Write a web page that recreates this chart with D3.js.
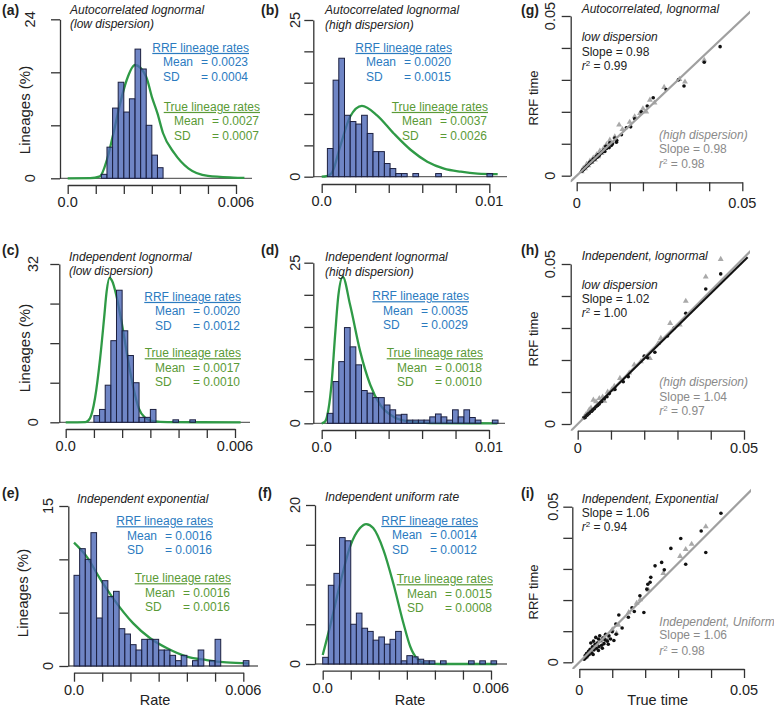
<!DOCTYPE html>
<html><head><meta charset="utf-8">
<script src="https://cdn.jsdelivr.net/npm/d3@7"></script>
<style>body{margin:0;background:#fff}</style>
</head><body><script>
// ---------------- DATA ----------------
// Histogram bins (% of lineages)
const aBinStart = 0.0012, aBinWidth = 0.0002;
const aCounts = [0.6, 4.7, 10.6, 14.5, 10.0, 12.0, 19.5, 16.5, 8.0, 3.5, 1.6];
const aCurveX = [0, 0.0008, 0.00115, 0.0014, 0.00163, 0.00187, 0.0021, 0.0024, 0.0028, 0.0030, 0.0032, 0.0034, 0.0038, 0.0043, 0.0050, 0.0059, 0.0063];
const aCurveY = [0, 0.02, 0.3, 2.8, 6.8, 11.3, 14.8, 17.1, 15.3, 12.3, 9.8, 6.8, 3.8, 1.5, 0.35, 0.1, 0.05];

const bBinStart = 0.00034, bBinWidth = 0.00034;
const bCounts = [4.5, 15.4, 18.9, 9.8, 8.8, 8.4, 9.8, 6.9, 4.0, 4.0, 2.1, 1.3, 0.5, 0.5, 0, 0.5, 0, 0, 0, 0.5, 0, 0, 0, 0, 0, 0, 0, 0, 0.5, 0];
const bCurveX = [0, 0.0003, 0.0006, 0.0011, 0.0017, 0.0024, 0.0033, 0.0043, 0.0053, 0.0063, 0.0073, 0.0083, 0.0093, 0.0105];
const bCurveY = [0, 0.1, 0.6, 4.8, 9.6, 11.3, 9.8, 6.9, 4.3, 2.4, 1.3, 0.8, 0.5, 0.4];

const cBinStart = 0.0010, cBinWidth = 0.0002;
const cCounts = [1.35, 2.6, 7.5, 16.5, 26.7, 18.5, 13.5, 8.0, 1.0, 1.0, 2.6, 0, 0, 0, 0.5, 0, 0, 0.5];
const cCurveX = [0, 0.0007, 0.00086, 0.00104, 0.00122, 0.00136, 0.00145, 0.00155, 0.00165, 0.00178, 0.00198, 0.00218, 0.00238, 0.00259, 0.0028, 0.0031, 0.0036, 0.0062];
const cCurveY = [0, 0.05, 0.8, 4.9, 12.9, 21, 26.4, 29.2, 28.5, 26.0, 20.3, 13.6, 7.5, 2.8, 1.0, 0.25, 0.03, 0];

const dBinStart = 0.00034, dBinWidth = 0.00034;
const dCounts = [1.55, 6.5, 9.6, 14.9, 11.9, 9.1, 5.1, 4.7, 4.0, 4.0, 2.85, 2.1, 1.3, 1.4, 0.5, 0.5, 0.5, 0.5, 1.0, 1.45, 1.0, 0.5, 2.1, 1.0, 2.1, 0.9, 0.5, 0, 0, 0.5];
const dCurveX = [0, 0.0002, 0.0004, 0.0006, 0.0008, 0.0010, 0.00126, 0.0017, 0.0023, 0.0029, 0.0035, 0.0043, 0.0053, 0.0065, 0.0105];
const dCurveY = [0, 0.26, 2.1, 6.5, 13.7, 20, 22.8, 18.4, 11.2, 6.0, 2.85, 1.0, 0.26, 0.05, 0];

const eBinStart = 0, eBinWidth = 0.0002;
const eCounts = [8.5, 11.0, 10.0, 12.5, 4.5, 8.0, 6.5, 7.0, 3.5, 3.0, 2.0, 1.5, 2.5, 2.5, 2.5, 1.5, 1.5, 1.0, 0.5, 1.0, 0, 0.5, 1.5, 0, 0.5, 2.5, 0, 0, 0, 0, 0.5];
const eCurveX = [0, 0.00045, 0.00092, 0.0014, 0.0021, 0.0027, 0.0033, 0.004, 0.0047, 0.0054, 0.0062];
const eCurveY = [11.56, 10.25, 8.2, 6.3, 4.0, 2.6, 1.66, 0.88, 0.56, 0.34, 0.25];

const fBinStart = 0, fBinWidth = 0.0002;
const fCounts = [0.84, 9.9, 11.4, 15.9, 15.5, 5.0, 6.4, 4.5, 4.1, 3.0, 3.4, 2.5, 3.1, 4.1, 0.4, 1.05, 0.9, 0.6, 0.4, 0.4, 0, 0.4, 0, 0, 0, 0, 0.4, 0, 0.4, 0, 0.4];
const fCurveX = [0, 0.00026, 0.00062, 0.00098, 0.00133, 0.00155, 0.0018, 0.00217, 0.00252, 0.00288, 0.00312, 0.00336, 0.0037, 0.0042, 0.0062];
const fCurveY = [1.13, 4.7, 10.1, 14.8, 17.1, 17.6, 17.1, 14.3, 10.1, 5.1, 2.2, 0.7, 0.08, 0, 0];

const histTitles = [["Autocorrelated lognormal", "(low dispersion)"], ["Autocorrelated lognormal", "(high dispersion)"],
  ["Independent lognormal", "(low dispersion)"], ["Independent lognormal", "(high dispersion)"],
  ["Independent exponential"], ["Independent uniform rate"]];
const rrfMean = ["0.0023", "0.0020", "0.0020", "0.0035", "0.0016", "0.0014"];
const rrfSD   = ["0.0004", "0.0015", "0.0012", "0.0029", "0.0016", "0.0012"];
const trueMean = ["0.0027", "0.0037", "0.0017", "0.0018", "0.0016", "0.0015"];
const trueSD   = ["0.0007", "0.0026", "0.0010", "0.0010", "0.0016", "0.0008"];

// Scatter data: [true time, RRF time]
const gDots = [[0.0433,0.0404],[0.0385,0.0355],[0.0324,0.0281],[0.0307,0.0300],[0.0270,0.0270],[0.0231,0.0244],[0.0213,0.0218],[0.0195,0.0200],[0.0175,0.0178],[0.0163,0.0153],[0.0150,0.0150],[0.0135,0.0128],[0.0121,0.0110],[0.0115,0.0118],[0.0105,0.0095],[0.0100,0.0103],[0.0095,0.0090],[0.0090,0.0085],[0.0088,0.0092],[0.0082,0.0080],[0.0078,0.0075],[0.0075,0.0072],[0.0070,0.0068],[0.0068,0.0063],[0.0065,0.0066],[0.0062,0.0058],[0.0060,0.0061],[0.0057,0.0055],[0.0055,0.0052],[0.0052,0.0050],[0.0050,0.0052],[0.0048,0.0046],[0.0045,0.0043],[0.0043,0.0045],[0.0040,0.0038],[0.0038,0.0040],[0.0035,0.0034],[0.0033,0.0031],[0.0030,0.0030],[0.0028,0.0027],[0.0025,0.0025],[0.0022,0.0021],[0.0020,0.0019],[0.0018,0.0018],[0.0015,0.0014],[0.0108,0.0100],[0.0098,0.0088],[0.0085,0.0076],[0.0120,0.0105]];
const gTris = [[0.0385,0.0362],[0.0327,0.0294],[0.0310,0.0302],[0.0264,0.0277],[0.0221,0.0237],[0.0210,0.0200],[0.0191,0.0195],[0.0128,0.0159],[0.0115,0.0122],[0.0100,0.0112],[0.0090,0.0098],[0.0082,0.0087],[0.0075,0.0070],[0.0070,0.0078],[0.0065,0.0060],[0.0060,0.0066],[0.0055,0.0050],[0.0050,0.0056],[0.0045,0.0042],[0.0040,0.0046],[0.0035,0.0032],[0.0030,0.0036],[0.0025,0.0022],[0.0020,0.0024],[0.0015,0.0013],[0.0175,0.0185],[0.0160,0.0168],[0.0138,0.0145],[0.0235,0.0228],[0.0200,0.0210]];
const hDots = [[0.0430,0.0469],[0.0385,0.0422],[0.0325,0.0346],[0.0232,0.0224],[0.0210,0.0207],[0.0200,0.0212],[0.0152,0.0148],[0.0137,0.0132],[0.0112,0.0108],[0.0095,0.0095],[0.0088,0.0085],[0.0080,0.0079],[0.0072,0.0070],[0.0065,0.0063],[0.0060,0.0058],[0.0055,0.0054],[0.0050,0.0048],[0.0045,0.0044],[0.0040,0.0039],[0.0035,0.0034],[0.0030,0.0030],[0.0025,0.0026],[0.0022,0.0020],[0.0018,0.0019],[0.0028,0.0027],[0.0033,0.0032],[0.0042,0.0040],[0.0270,0.0275],[0.0290,0.0300]];
const hTris = [[0.0430,0.0515],[0.0385,0.0460],[0.0325,0.0384],[0.0278,0.0315],[0.0307,0.0310],[0.0242,0.0252],[0.0217,0.0205],[0.0190,0.0195],[0.0127,0.0143],[0.0102,0.0107],[0.0090,0.0100],[0.0075,0.0085],[0.0065,0.0080],[0.0055,0.0070],[0.0047,0.0075],[0.0040,0.0050],[0.0035,0.0045],[0.0030,0.0035],[0.0025,0.0030],[0.0020,0.0022],[0.0060,0.0062],[0.0080,0.0072],[0.0110,0.0118],[0.0155,0.0160],[0.0170,0.0185],[0.0250,0.0268]];
const iDots = [[0.0430,0.0479],[0.0370,0.0422],[0.0308,0.0398],[0.0278,0.0366],[0.0384,0.0353],[0.0323,0.0315],[0.0250,0.0321],[0.0258,0.0297],[0.0230,0.0310],[0.0217,0.0273],[0.0215,0.0257],[0.0208,0.0251],[0.0184,0.0214],[0.0196,0.0160],[0.0167,0.0163],[0.0149,0.0145],[0.0120,0.0152],[0.0111,0.0123],[0.0100,0.0098],[0.0095,0.0075],[0.0090,0.0085],[0.0085,0.0068],[0.0080,0.0090],[0.0075,0.0060],[0.0072,0.0078],[0.0068,0.0055],[0.0065,0.0070],[0.0060,0.0050],[0.0058,0.0075],[0.0055,0.0062],[0.0052,0.0045],[0.0050,0.0080],[0.0048,0.0058],[0.0045,0.0040],[0.0043,0.0068],[0.0040,0.0050],[0.0038,0.0030],[0.0035,0.0062],[0.0033,0.0042],[0.0030,0.0025],[0.0028,0.0035],[0.0025,0.0020],[0.0022,0.0028],[0.0020,0.0015],[0.0018,0.0022],[0.0015,0.0010],[0.0062,0.0085],[0.0078,0.0072],[0.0088,0.0058],[0.0105,0.0070],[0.0112,0.0090],[0.0058,0.0038],[0.0042,0.0025],[0.0070,0.0045],[0.0130,0.0110],[0.0160,0.0175],[0.0205,0.0235]];
const iTris = [[0.0384,0.0436],[0.0323,0.0363],[0.0341,0.0380],[0.0306,0.0341],[0.0255,0.0286],[0.0210,0.0232],[0.0185,0.0202],[0.0174,0.0190],[0.0119,0.0120],[0.0113,0.0093],[0.0088,0.0077],[0.0075,0.0080],[0.0065,0.0068],[0.0055,0.0058],[0.0045,0.0048],[0.0035,0.0038],[0.0025,0.0028],[0.0020,0.0018],[0.0150,0.0160],[0.0100,0.0105]];

const scTitles = ["Autocorrelated, lognormal", "Independent, lognormal", "Independent, Exponential"];
const scLowLabel = ["low dispersion", "low dispersion", null];
const blackSlope = ["0.98", "1.02", "1.06"], blackR2 = ["0.99", "1.00", "0.94"];
const grayLabel = ["(high dispersion)", "(high dispersion)", "Independent, Uniform"];
const graySlope = ["0.98", "1.04", "1.06"], grayR2 = ["0.98", "0.97", "0.98"];
const blackFitSlope = [null, 1.02, null];
const grayFitSlope = [0.98, 1.04, 1.06];

// ---------------- DRAWING ----------------
const FONT = '"Liberation Sans", Arial, Helvetica, sans-serif';
const svg = d3.select("body").append("svg").attr("width", 774).attr("height", 709)
  .style("font-family", FONT);

const AX = "#333", BLUE = "#2b7bbf", GREEN_T = "#5a9a36", GREEN_L = "#2f9a46";
const TICK = 9, TICKFS = 14.5;

function txt(g, x, y, s, o = {}) {
  const t = g.append("text").attr("x", x).attr("y", y).attr("dy", "0.35em").text(s)
    .attr("font-size", o.fs || 12).attr("fill", o.fill || "#222");
  if (o.anchor) t.attr("text-anchor", o.anchor);
  if (o.italic) t.attr("font-style", "italic");
  if (o.bold) t.attr("font-weight", "bold");
  if (o.rot) t.attr("transform", `rotate(-90,${x},${y})`);
  if (o.under) t.style("text-decoration", "underline");
  return t;
}

function statBlock(g, R, y0, color, head, mean, sd) {
  txt(g, R, y0, head, { anchor: "end", fill: color, under: true });
  txt(g, R - 86, y0 + 14.3, "Mean", { fill: color });
  txt(g, R - 1, y0 + 14.3, "= " + mean, { fill: color, anchor: "end" });
  txt(g, R - 86, y0 + 28.6, "SD", { fill: color });
  txt(g, R - 1, y0 + 28.6, "= " + sd, { fill: color, anchor: "end" });
}

function histPanel(L, k, binStart, binWidth, counts, curveX, curveY) {
  const g = svg.append("g");
  const x = d3.scaleLinear().domain([0, L.xmax]).range([L.x0, L.x1]);
  const y = d3.scaleLinear().domain([0, L.ymax]).range([L.y0, L.y1]);
  // baseline
  g.append("line").attr("x1", L.yAxisX).attr("x2", L.baseEnd).attr("y1", y(0)).attr("y2", y(0))
    .attr("stroke", "#666").attr("stroke-width", 1.3);
  // density curve
  const pts = curveX.map((v, i) => [v, curveY[i]]);
  g.append("path").datum(pts)
    .attr("d", d3.line().x(d => x(d[0])).y(d => y(d[1])).curve(d3.curveMonotoneX))
    .attr("fill", "none").attr("stroke", GREEN_L).attr("stroke-width", 2.3);
  // bars
  const bins = counts.map((c, i) => ({ x0: binStart + i * binWidth, c })).filter(d => d.c > 0);
  g.selectAll("rect.bar").data(bins).join("rect").attr("class", "bar")
    .attr("x", d => x(d.x0)).attr("width", d => x(d.x0 + binWidth) - x(d.x0))
    .attr("y", d => y(d.c)).attr("height", d => y(0) - y(d.c))
    .attr("fill", "rgba(75,102,182,0.8)").attr("stroke", "#1c2040").attr("stroke-width", 1);
  // axes
  const yAx = d3.axisLeft(y).tickValues(d3.range(0, L.ymax + 1e-9, L.ystep))
    .tickSize(TICK).tickSizeOuter(0).tickFormat("");
  g.append("g").attr("transform", `translate(${L.yAxisX},0)`).call(yAx)
    .call(s => s.selectAll("path,line").attr("stroke", AX).attr("stroke-width", 1.3));
  const xt = d3.range(0, L.xmax + 1e-9, L.xstep);
  const xAx = d3.axisBottom(x).tickValues(xt).tickSize(TICK).tickSizeOuter(0).tickFormat("");
  g.append("g").attr("transform", `translate(0,${L.xAxisY})`).call(xAx)
    .call(s => s.selectAll("path,line").attr("stroke", AX).attr("stroke-width", 1.3));
  // tick labels
  txt(g, x(0), L.xAxisY + 17, L.xLab[0], { anchor: "middle", fs: TICKFS });
  txt(g, x(L.xmax), L.xAxisY + 17, L.xLab[1], { anchor: "middle", fs: TICKFS });
  txt(g, L.yLabX, y(0), "0", { anchor: "middle", fs: TICKFS, rot: true });
  txt(g, L.yLabX, y(L.ymax), String(L.ymax), { anchor: "middle", fs: TICKFS, rot: true });
  // labels
  txt(g, L.labX, L.labY, L.label, { bold: true, fs: 14 });
  histTitles[k].forEach((t, i) => txt(g, L.titleX, L.titleY[i], t, { italic: true }));
  statBlock(g, L.rrfR, L.rrfY, BLUE, "RRF lineage rates", rrfMean[k], rrfSD[k]);
  statBlock(g, L.truR, L.truY, GREEN_T, "True lineage rates", trueMean[k], trueSD[k]);
  if (L.ylabel) txt(g, L.ylabel.x, L.ylabel.y, "Lineages (%)", { anchor: "middle", fs: 15, rot: true });
  if (L.xlabel) txt(g, L.xlabel.x, L.xlabel.y, "Rate", { anchor: "middle", fs: 14.5 });
}

function r2Text(g, x, y, val, color) {
  const t = g.append("text").attr("x", x).attr("y", y).attr("dy", "0.35em").attr("font-size", 12).attr("fill", color);
  t.append("tspan").attr("font-style", "italic").text("r");
  t.append("tspan").attr("font-size", 8).attr("dy", -4).text("2");
  t.append("tspan").attr("dy", 4).text(" = " + val);
}

function scatterPanel(L, k, dots, tris) {
  const g = svg.append("g");
  const x = d3.scaleLinear().domain([0, 0.05]).range([L.x0, L.x1]);
  const y = d3.scaleLinear().domain([0, 0.05]).range([L.y0, L.y1]);
  const tv = d3.range(0, 0.05 + 1e-9, 0.01);
  g.append("g").attr("transform", `translate(${L.yAxisX},0)`)
    .call(d3.axisLeft(y).tickValues(tv).tickSize(TICK).tickSizeOuter(0).tickFormat(""))
    .call(s => s.selectAll("path,line").attr("stroke", AX).attr("stroke-width", 1.3));
  g.append("g").attr("transform", `translate(0,${L.xAxisY})`)
    .call(d3.axisBottom(x).tickValues(tv).tickSize(TICK).tickSizeOuter(0).tickFormat(""))
    .call(s => s.selectAll("path,line").attr("stroke", AX).attr("stroke-width", 1.3));
  txt(g, x(0), L.xLabY, "0", { anchor: "middle", fs: TICKFS });
  txt(g, x(0.05), L.xLabY, "0.05", { anchor: "middle", fs: TICKFS });
  txt(g, L.yLabX, y(0), "0", { anchor: "middle", fs: TICKFS, rot: true });
  txt(g, L.yLabX, y(0.05), "0.05", { anchor: "middle", fs: TICKFS, rot: true });

  const clipId = "clip" + k;
  g.append("clipPath").attr("id", clipId).append("rect")
    .attr("x", L.yAxisX).attr("y", L.top).attr("width", L.right - L.yAxisX).attr("height", L.xAxisY - L.top);
  const tri = d3.symbol().type(d3.symbolTriangle).size(15);
  g.selectAll("path.tri").data(tris).join("path").attr("class", "tri")
    .attr("d", tri).attr("transform", d => `translate(${x(d[0])},${y(d[1])})`).attr("fill", "#a9a9a9");
  g.selectAll("circle.dot").data(dots).join("circle").attr("class", "dot")
    .attr("cx", d => x(d[0])).attr("cy", d => y(d[1])).attr("r", 1.8).attr("fill", "#111");
  const lg = g.append("g").attr("clip-path", `url(#${clipId})`);
  const gs = grayFitSlope[k];
  lg.append("line").attr("x1", x(-0.004)).attr("y1", y(-0.004 * gs)).attr("x2", x(0.056)).attr("y2", y(0.056 * gs))
    .attr("stroke", "#a0a0a0").attr("stroke-width", 2.2);
  const bs = blackFitSlope[k];
  if (bs) lg.append("line").attr("x1", x(0.0017)).attr("y1", y(0.0017 * bs)).attr("x2", x(0.0511)).attr("y2", y(0.0511 * bs))
    .attr("stroke", "#111").attr("stroke-width", 2);

  txt(g, L.labX, L.labY, L.label, { bold: true, fs: 14 });
  txt(g, L.textX, L.titleY, scTitles[k], { italic: true });
  if (scLowLabel[k]) txt(g, L.textX, L.lowY, scLowLabel[k], { italic: true });
  txt(g, L.textX, L.slopeY, "Slope = " + blackSlope[k], {});
  r2Text(g, L.textX, L.r2Y, blackR2[k], "#222");
  txt(g, L.grayX, L.grayY[0], grayLabel[k], { italic: true, fill: "#8a8a8a" });
  txt(g, L.grayX, L.grayY[1], "Slope = " + graySlope[k], { fill: "#8a8a8a" });
  r2Text(g, L.grayX, L.grayY[2], grayR2[k], "#8a8a8a");
  txt(g, L.rrf.x, L.rrf.y, "RRF time", { anchor: "middle", fs: 13, rot: true });
  if (L.xlabel) txt(g, L.xlabel.x, L.xlabel.y, "True time", { anchor: "middle", fs: 14.5 });
}

// ---------------- LAYOUT ----------------
histPanel({ x0: 67.7, x1: 236, xmax: 0.006, xstep: 0.001, y0: 178.3, y1: 19.3, ymax: 24, ystep: 8, yAxisX: 60, xAxisY: 185, baseEnd: 252,
  yLabX: 30, xLab: ["0.0", "0.006"], label: "(a)", labX: 2, labY: 10, titleX: 70, titleY: [9.5, 24], rrfR: 249, rrfY: 47.7, truR: 260, truY: 106.7,
  ylabel: { x: 25, y: 110 } }, 0, aBinStart, aBinWidth, aCounts, aCurveX, aCurveY);
histPanel({ x0: 321.7, x1: 489.3, xmax: 0.01, xstep: 0.002, y0: 176.7, y1: 20, ymax: 25, ystep: 5, yAxisX: 313.3, xAxisY: 184, baseEnd: 507,
  yLabX: 295, xLab: ["0.0", "0.01"], label: "(b)", labX: 261, labY: 10, titleX: 325, titleY: [9.5, 25], rrfR: 452, rrfY: 47.7, truR: 488, truY: 106.7 },
  1, bBinStart, bBinWidth, bCounts, bCurveX, bCurveY);
histPanel({ x0: 65.7, x1: 235, xmax: 0.006, xstep: 0.001, y0: 422.3, y1: 264, ymax: 32, ystep: 8, yAxisX: 59.3, xAxisY: 429, baseEnd: 250,
  yLabX: 33, xLab: ["0.0", "0.006"], label: "(c)", labX: 2, labY: 250, titleX: 69, titleY: [257, 271], rrfR: 241, rrfY: 296.7, truR: 241, truY: 353,
  ylabel: { x: 25, y: 348 } }, 2, cBinStart, cBinWidth, cCounts, cCurveX, cCurveY);
histPanel({ x0: 321.7, x1: 489, xmax: 0.01, xstep: 0.002, y0: 423.3, y1: 262.7, ymax: 25, ystep: 5, yAxisX: 313.3, xAxisY: 430, baseEnd: 505,
  yLabX: 295, xLab: ["0.0", "0.01"], label: "(d)", labX: 261, labY: 250, titleX: 325, titleY: [257, 271.7], rrfR: 469, rrfY: 296, truR: 483, truY: 353 },
  3, dBinStart, dBinWidth, dCounts, dCurveX, dCurveY);
histPanel({ x0: 74, x1: 243.3, xmax: 0.006, xstep: 0.001, y0: 666, y1: 506, ymax: 15, ystep: 5, yAxisX: 68.3, xAxisY: 672.7, baseEnd: 258,
  yLabX: 48, xLab: ["0.0", "0.006"], label: "(e)", labX: 2, labY: 493, titleX: 77, titleY: [499], rrfR: 213, rrfY: 521, truR: 231, truY: 578,
  ylabel: { x: 23, y: 593 }, xlabel: { x: 155, y: 700 } }, 4, eBinStart, eBinWidth, eCounts, eCurveX, eCurveY);
histPanel({ x0: 322.7, x1: 491, xmax: 0.006, xstep: 0.001, y0: 664, y1: 505, ymax: 20, ystep: 5, yAxisX: 315, xAxisY: 670.7, baseEnd: 507,
  yLabX: 295, xLab: ["0.0", "0.006"], label: "(f)", labX: 258, labY: 493, titleX: 325, titleY: [497], rrfR: 478, rrfY: 520.7, truR: 493, truY: 579,
  xlabel: { x: 410, y: 700 } }, 5, fBinStart, fBinWidth, fCounts, fCurveX, fCurveY);

scatterPanel({ x0: 576.7, x1: 742.3, y0: 175.7, y1: 16, yAxisX: 570.7, xAxisY: 182.3, right: 750, top: 3, yLabX: 550, xLabY: 203,
  label: "(g)", labX: 521, labY: 10, textX: 581.7, titleY: 8.3, lowY: 36.7, slopeY: 51.7, r2Y: 65.5, grayX: 659, grayY: [135, 149, 163.5],
  rrf: { x: 533, y: 98 } }, 0, gDots, gTris);
scatterPanel({ x0: 577.7, x1: 744, y0: 424, y1: 264, yAxisX: 570.7, xAxisY: 430.7, right: 750, top: 245, yLabX: 550, xLabY: 447.7,
  label: "(h)", labX: 521, labY: 250, textX: 581.7, titleY: 255.7, lowY: 284.3, slopeY: 298.3, r2Y: 312.8, grayX: 659.3, grayY: [382, 396.7, 411.2],
  rrf: { x: 533, y: 339 } }, 1, hDots, hTris);
scatterPanel({ x0: 579.3, x1: 744, y0: 662.3, y1: 506.7, yAxisX: 572.3, xAxisY: 669, right: 751, top: 485, yLabX: 552.7, xLabY: 690,
  label: "(i)", labX: 521, labY: 493, textX: 581.7, titleY: 498.3, slopeY: 512.3, r2Y: 527.2, grayX: 659.3, grayY: [621.7, 635, 650.5],
  rrf: { x: 533, y: 592 }, xlabel: { x: 657.7, y: 700 } }, 2, iDots, iTris);
</script></body></html>
